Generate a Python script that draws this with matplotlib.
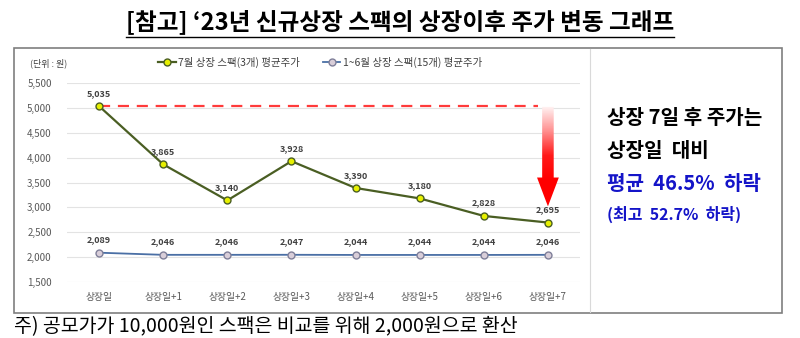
import numpy as np
import matplotlib.pyplot as plt
from matplotlib.patches import Polygon, Rectangle
from matplotlib.lines import Line2D
from matplotlib.colors import LinearSegmentedColormap

plt.rcParams['font.family'] = ['Noto Sans CJK KR', 'DejaVu Sans']

# 데이터
days = ['상장일', '상장일+1', '상장일+2', '상장일+3', '상장일+4', '상장일+5', '상장일+6', '상장일+7']
july_price = [5035, 3865, 3140, 3928, 3390, 3180, 2828, 2695]      # 7월 상장 스팩(3개)
early_price = [2089, 2046, 2046, 2047, 2044, 2044, 2044, 2046]     # 1~6월 상장 스팩(15개)
yticks = [1500, 2000, 2500, 3000, 3500, 4000, 4500, 5000, 5500]

W, H = 800, 338
fig = plt.figure(figsize=(8, 3.38), dpi=100)
ax = fig.add_axes([67 / W, 1 - 282 / H, (580 - 67) / W, (282 - 83) / H])

x = np.arange(len(days))
ax.plot(x, early_price, color='#4A6FA5', lw=1.3, marker='o', ms=5,
        mfc='#D9CED9', mec='#7F7F99', mew=1.0, label='1~6월 상장 스팩(15개) 평균주가', zorder=3)
ax.plot(x, july_price, color='#4A5E23', lw=1.6, marker='o', ms=5,
        mfc='#E6F000', mec='#4A5E23', mew=1.0, label='7월 상장 스팩(3개) 평균주가', zorder=3)

for xi, v in zip(x, july_price):
    ax.annotate(f'{v:,}', (xi, v), xytext=(0, 6), textcoords='offset points',
                ha='center', va='bottom', fontsize=6.5, fontweight='bold', color='#404040')
for xi, v in zip(x, early_price):
    ax.annotate(f'{v:,}', (xi, v), xytext=(0, 6), textcoords='offset points',
                ha='center', va='bottom', fontsize=6.5, fontweight='bold', color='#404040')

# 상장일 기준 점선
ax.plot([0, 6.85], [july_price[0], july_price[0]], color='#FF3B3B', lw=1.6,
        ls=(0, (5, 3.5)), zorder=2)

# 하락 화살표 (위는 옅고 아래로 갈수록 진한 빨강)
ax_x = 7
sw, hw = 0.09, 0.17
top, head_base, tip = 5020, 3600, 3020
verts = [(ax_x - sw, top), (ax_x + sw, top), (ax_x + sw, head_base), (ax_x + hw, head_base),
         (ax_x, tip), (ax_x - hw, head_base), (ax_x - sw, head_base)]
arrow = Polygon(verts, closed=True, fc='none', ec='none')
ax.add_patch(arrow)
cmap = LinearSegmentedColormap.from_list('red_grad', ['#FFF4F4', '#FF9090', '#FF1A1A', '#FF0000'])
grad = np.clip(np.linspace(0, 1.35, 200), 0, 1).reshape(-1, 1)
im = ax.imshow(grad, extent=[ax_x - hw, ax_x + hw, tip, top], aspect='auto',
               cmap=cmap, origin='upper', zorder=4)
im.set_clip_path(arrow)

ax.set_xlim(-0.5, len(days) - 0.5)
ax.set_ylim(1500, 5500)
ax.set_yticks(yticks)
ax.set_yticklabels([f'{t:,}' for t in yticks])
ax.set_xticks(x)
ax.set_xticklabels(days)
ax.tick_params(axis='both', length=0, labelsize=7, colors='#595959')
ax.tick_params(axis='y', pad=11)
ax.tick_params(axis='x', pad=7)
ax.grid(axis='y', color='#E3E3E3', lw=0.8)
ax.set_axisbelow(True)
for s in ax.spines.values():
    s.set_visible(False)

handles, labels = ax.get_legend_handles_labels()
fig.legend(handles[::-1], labels[::-1], loc='center', bbox_to_anchor=(0.40, 1 - 62 / H),
           ncol=2, frameon=False, fontsize=7.5, handlelength=1.7, handletextpad=0.2,
           columnspacing=2.2, labelcolor='#404040')
fig.text(30 / W, 1 - 63 / H, '(단위 : 원)', fontsize=6.5, color='#404040', va='center')

# 바깥 테두리와 구분선
fig.add_artist(Rectangle((14 / W, 1 - 313 / H), (782 - 14) / W, (313 - 48) / H,
                         transform=fig.transFigure, fill=False, ec='#7F7F7F', lw=1.2))
fig.add_artist(Line2D([590 / W, 590 / W], [1 - 312 / H, 1 - 49 / H],
                      transform=fig.transFigure, color='#D9D9D9', lw=0.8))

# 오른쪽 설명
fig.text(607 / W, 1 - 118 / H, '상장 7일 후 주가는', fontsize=14.5, fontweight='bold',
         color='black', va='center')
fig.text(607 / W, 1 - 150 / H, '상장일  대비', fontsize=14.5, fontweight='bold',
         color='black', va='center')
fig.text(607 / W, 1 - 183 / H, '평균  46.5%  하락', fontsize=14.5, fontweight='bold',
         color='#1414C8', va='center')
fig.text(607 / W, 1 - 214 / H, '(최고  52.7%  하락)', fontsize=11.5, fontweight='bold',
         color='#1414C8', va='center')

# 제목 + 밑줄
title = fig.text(0.5, 1 - 22 / H, "[참고] ‘23년 신규상장 스팩의 상장이후 주가 변동 그래프",
                 fontsize=17, fontweight='bold', ha='center', va='center', color='black')
fig.canvas.draw()
bb = title.get_window_extent(fig.canvas.get_renderer())
fig.add_artist(Line2D([bb.x0 / W, bb.x1 / W], [1 - 37 / H, 1 - 37 / H],
                      transform=fig.transFigure, color='black', lw=1.0))

fig.text(14 / W, 1 - 327 / H, '주) 공모가가 10,000원인 스팩은 비교를 위해 2,000원으로 환산',
         fontsize=14, color='black', va='center')

fig.savefig('out.png', dpi=100)
